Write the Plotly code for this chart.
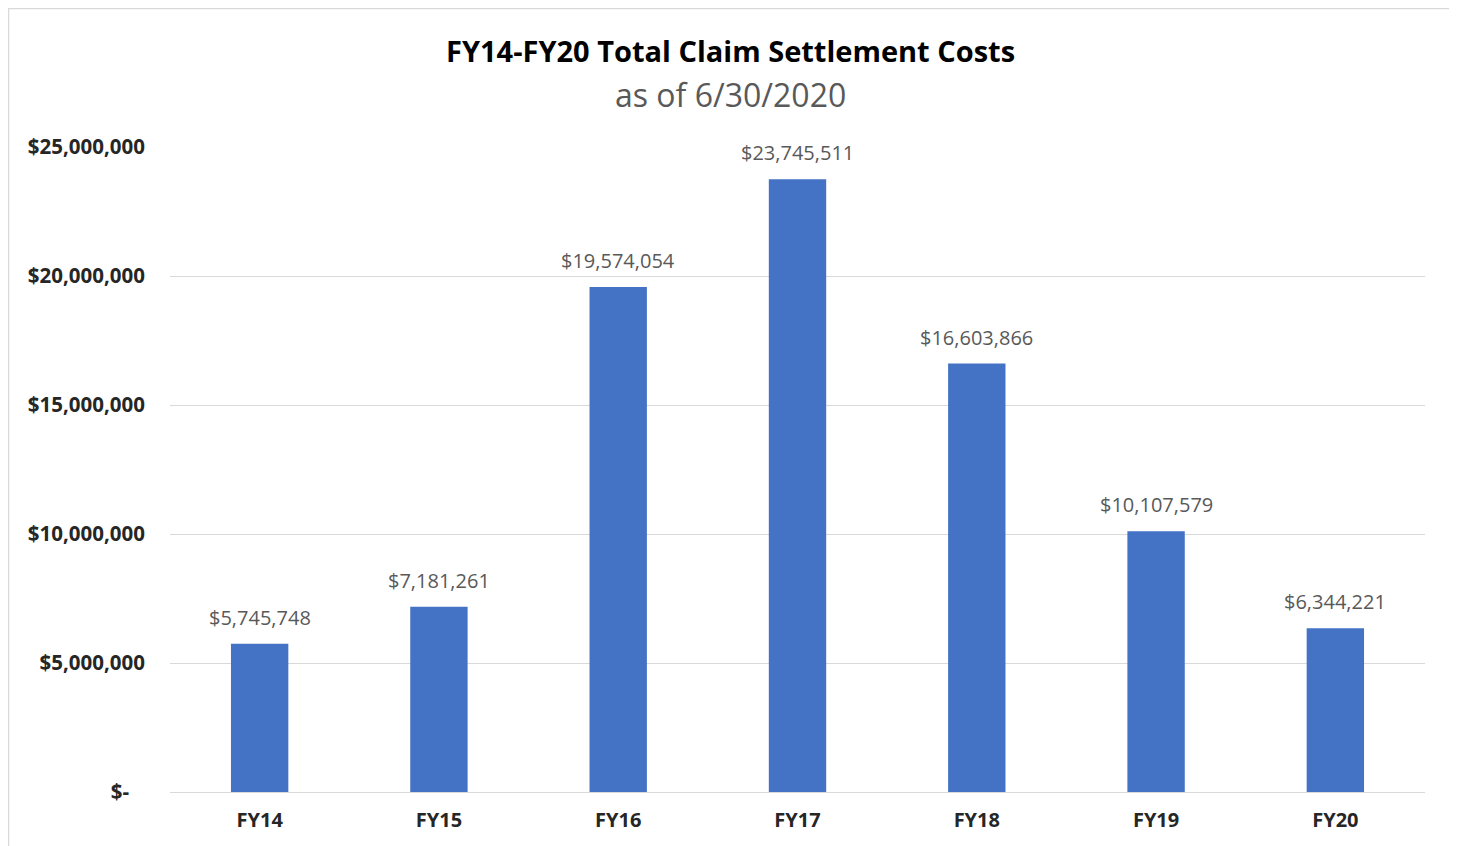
import plotly.graph_objects as go

categories = ["FY14", "FY15", "FY16", "FY17", "FY18", "FY19", "FY20"]
values = [5745748, 7181261, 19574054, 23745511, 16603866, 10107579, 6344221]
tick_vals = [0, 5000000, 10000000, 15000000, 20000000, 25000000]
tick_text = ["$-\u00a0\u00a0\u00a0", "$5,000,000", "$10,000,000", "$15,000,000", "$20,000,000", "$25,000,000"]
title_text = "FY14-FY20 Total Claim Settlement Costs"
subtitle_text = "as of 6/30/2020"

labels = ["${:,}".format(v) for v in values]

FONT = "Open Sans"

fig = go.Figure(
    go.Bar(
        x=categories,
        y=values,
        marker=dict(color="#4472C4", line=dict(width=0)),
        width=0.32,
        hoverinfo="skip",
    )
)

for c, v, t in zip(categories, values, labels):
    fig.add_annotation(
        x=c, y=v, text=t, xref="x", yref="y",
        showarrow=False, yanchor="bottom", xanchor="center",
        yshift=11,
        font=dict(family=FONT, size=20, color="#595959"),
    )

# page body has 8px margin, figure is offset by it
fig.update_layout(
    width=1449,
    height=838,
    paper_bgcolor="white",
    plot_bgcolor="white",
    margin=dict(l=162, r=32, t=139, b=54),
    showlegend=False,
    font=dict(family=FONT),
)

fig.update_yaxes(
    range=[0, 25000000],
    tickvals=tick_vals,
    ticktext=tick_text,
    tickfont=dict(family=FONT, size=20.5, color="#262626", weight="bold"),
    showgrid=True,
    gridcolor="#d9d9d9",
    gridwidth=1,
    zeroline=True,
    zerolinecolor="#d9d9d9",
    zerolinewidth=1,
    showline=False,
    ticklabelstandoff=24,
)
fig.update_xaxes(
    tickfont=dict(family=FONT, size=20, color="#262626", weight="bold"),
    showline=False,
    showgrid=False,
    ticklabelstandoff=14,
)

fig.add_annotation(
    text="<b>" + title_text + "</b>",
    xref="paper", yref="paper",
    x=(730 - 170) / 1255, y=(792 - 50) / 645,
    xanchor="center", yanchor="middle",
    showarrow=False,
    font=dict(family=FONT, size=29, color="#000000"),
)
fig.add_annotation(
    text=subtitle_text,
    xref="paper", yref="paper",
    x=(730 - 170) / 1255, y=(792 - 94) / 645,
    xanchor="center", yanchor="middle",
    showarrow=False,
    font=dict(family=FONT, size=32, color="#595959"),
)

fig.add_shape(
    type="rect",
    xref="paper", yref="paper",
    x0=(8.5 - 170) / 1255, x1=(1453 - 170) / 1255,
    y0=(792 - 880) / 645, y1=(792 - 8.5) / 645,
    line=dict(color="#d9d9d9", width=1.5),
    fillcolor="rgba(0,0,0,0)",
    layer="below",
)

fig.write_html("out.html")
